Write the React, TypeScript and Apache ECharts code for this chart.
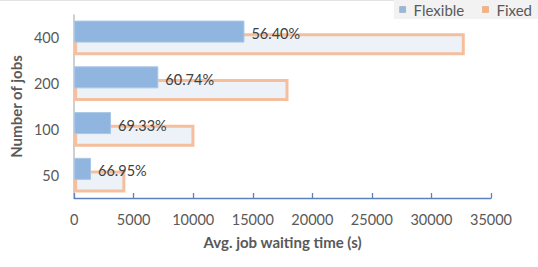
import React, { useEffect, useRef } from "react";
import * as echarts from "echarts";

const categories = ["50", "100", "200", "400"];
const flexible = [1420, 3100, 7070, 14300];
const fixed = [4300, 10100, 18000, 32800];
const reductionLabels = ["66.95%", "69.33%", "60.74%", "56.40%"];
const xTicks = [0, 5000, 10000, 15000, 20000, 25000, 30000, 35000];

const FONT = "Lato, 'Liberation Sans', sans-serif";

export default function App() {
  const ref = useRef<HTMLDivElement>(null);
  useEffect(() => {
    if (!ref.current) return;
    const chart = echarts.init(ref.current, null, { renderer: "svg" });
    chart.setOption({
      animation: false,
      backgroundColor: "#ffffff",
      textStyle: { fontFamily: FONT },
      graphic: [
        { type: "line", shape: { x1: 0, y1: 0.5, x2: 394, y2: 0.5 }, style: { stroke: "#e3e3e3", lineWidth: 1 } },
        { type: "rect", shape: { x: 394, y: 0, width: 144, height: 19 }, style: { fill: "#f2f2f2" }, z: -1 },
      ],
      legend: {
        right: 6,
        top: 2,
        padding: 0,
        itemGap: 18,
        itemWidth: 6,
        itemHeight: 6,
        icon: "rect",
        textStyle: { fontFamily: FONT, fontSize: 15, color: "#595959", padding: [0, 0, 0, 3] },
        data: [
          { name: "Flexible", itemStyle: { color: "#9bb7d6", borderColor: "#8aa0bb", borderWidth: 0.5 } },
          { name: "Fixed", itemStyle: { color: "#f4b183", borderColor: "#e89a6a", borderWidth: 0.5 } },
        ],
      },
      grid: { left: 71, right: 47, top: 15, bottom: 69, containLabel: false },
      xAxis: {
        type: "value",
        min: xTicks[0],
        max: xTicks[xTicks.length - 1],
        interval: 5000,
        name: "Avg. job waiting time (s)",
        nameLocation: "middle",
        nameGap: 36,
        nameTextStyle: { fontFamily: FONT, fontSize: 15, fontWeight: "bold", color: "#595959" },
        axisLine: { show: true, lineStyle: { color: "#5b82bf", width: 1.3 } },
        axisTick: { show: true, inside: true, length: 5, lineStyle: { color: "#5b82bf", width: 1.3 } },
        axisLabel: { margin: 14, fontSize: 14.5, color: "#595959", fontFamily: FONT, formatter: (v: number) => String(v) },
        splitLine: { show: false },
      },
      yAxis: {
        type: "category",
        data: categories,
        name: "Number of jobs",
        nameLocation: "middle",
        nameGap: 45,
        nameTextStyle: { fontFamily: FONT, fontSize: 15, fontWeight: "bold", color: "#595959" },
        axisLine: { show: true, lineStyle: { color: "#bfbfbf", width: 1.5 } },
        axisTick: { show: false },
        axisLabel: { margin: 15, fontSize: 14.5, color: "#595959", fontFamily: FONT },
      },
      series: [
        {
          name: "Flexible",
          type: "bar",
          data: flexible,
          barWidth: 22,
          barGap: "-43%",
          itemStyle: { color: "#90b6e0", borderColor: "#a9c6e6", borderWidth: 1 },
          label: {
            show: true,
            position: "right",
            distance: 7,
            offset: [0, 2],
            fontFamily: FONT,
            fontSize: 14.5,
            color: "#404040",
            formatter: (p: any) => reductionLabels[p.dataIndex],
          },
          z: 4,
        },
        {
          name: "Fixed",
          type: "bar",
          data: fixed,
          barWidth: 22,
          barGap: "-43%",
          itemStyle: { color: "#edf2f9", borderColor: "#f5bf9d", borderWidth: 3 },
          z: 2,
        },
      ],
    });
    return () => chart.dispose();
  }, []);
  return (
    <div
      ref={ref}
      style={{ position: "fixed", left: 0, top: 0, width: 538, height: 267 }}
    />
  );
}
